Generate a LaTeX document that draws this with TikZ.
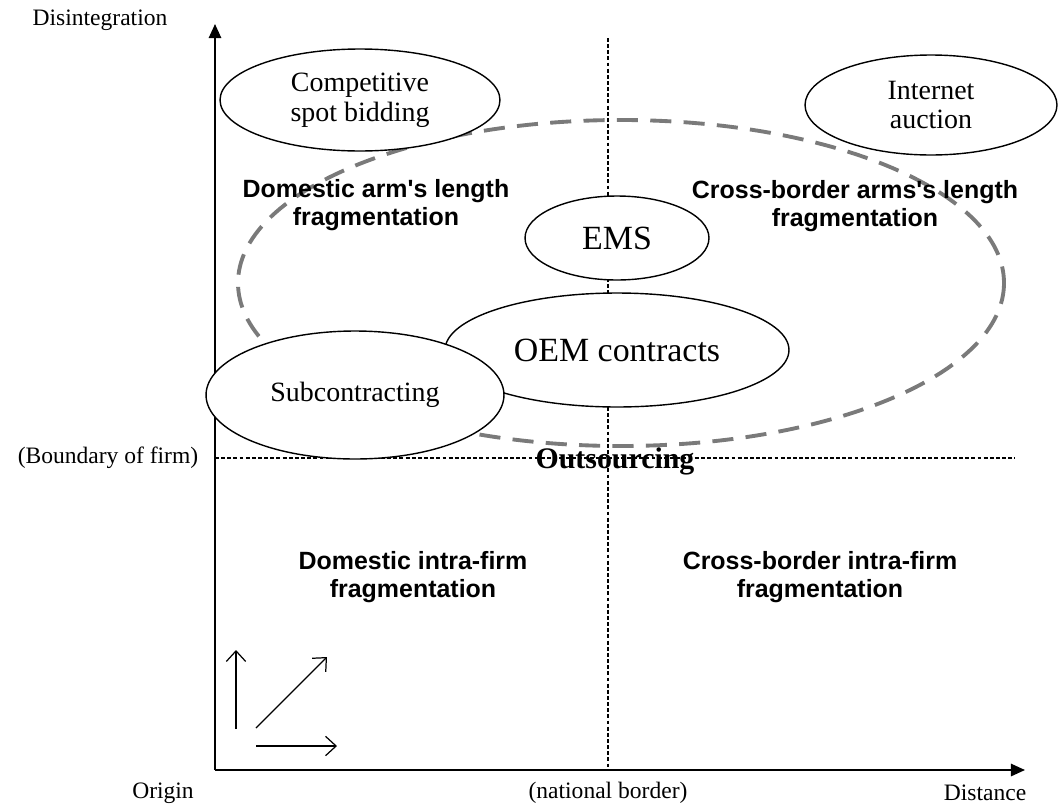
\documentclass[tikz,border=0pt]{standalone}
\usepackage{fontspec}
\setmainfont{Liberation Serif}
\newfontfamily\arialfont{Liberation Sans}
\usetikzlibrary{shapes.geometric,arrows.meta}
\definecolor{dashgray}{HTML}{7A7A7A}

\begin{document}
\begin{tikzpicture}[x=0.02cm, y=-0.02cm,
	bubble/.style={draw, ellipse, fill=white, line width=0.8pt, inner sep=0pt,
		align=center, font=\fontsize{15.9}{17}\selectfont},
	region/.style={align=center, font=\arialfont\bfseries\fontsize{14.2}{15.8}\selectfont},
	axislabel/.style={font=\fontsize{13.4}{15}\selectfont},
	guide/.style={line width=0.6pt, dash pattern=on 2.2pt off 1.3pt}]

% frame %{{{2

	\useasboundingbox (0,0) rectangle (1060,805);

% coordinates %{{{2

	\coordinate (O) at (215,770);
	\coordinate (Ytip) at (215,24);
	\coordinate (Xtip) at (1025,770);

	\coordinate (Btop) at (608,38);
	\coordinate (Bbot) at (608,770);
	\coordinate (Fleft) at (215,458);
	\coordinate (Fright) at (1015,458);

	\coordinate (V1) at (236,729);
	\coordinate (V2) at (236,650);
	\coordinate (D1) at (256,728);
	\coordinate (D2) at (327,657);
	\coordinate (H1) at (256,746);
	\coordinate (H2) at (337,746);

% outsourcing region %{{{2

	\draw[dashgray, line width=2.2pt, dash pattern=on 12pt off 7pt]
		(621,283) ellipse [x radius=383, y radius=163];

% guide lines %{{{2

	\draw[guide] (Btop) -- (Bbot);
	\draw[guide] (Fleft) -- (Fright);

% axes %{{{2

	\draw[line width=1.1pt, -{Triangle[length=8pt,width=7pt]}] (O) -- (Ytip);
	\draw[line width=1.1pt, -{Triangle[length=8pt,width=7pt]}] (O) -- (Xtip);

% ellipses %{{{2

	\node[bubble, minimum width=5.6cm, minimum height=2.04cm] (compbid) at (360,100)
		{Competitive\\spot bidding};
	\node[bubble, minimum width=5.04cm, minimum height=2cm] (inet) at (931,105)
		{Internet\\auction};
	\node[bubble, minimum width=3.68cm, minimum height=1.68cm,
		font=\fontsize{19.3}{21}\selectfont] (ems) at (617,238) {EMS};
	\node[bubble, minimum width=6.88cm, minimum height=2.28cm,
		font=\fontsize{19.3}{21}\selectfont] (oem) at (617,350) {OEM contracts};
	\node[bubble, minimum width=5.96cm, minimum height=2.56cm] (subcon) at (355,395)
		{Subcontracting};

% region labels %{{{2

	\node[region] (domarm) at (376,205) {Domestic arm's length\\fragmentation};
	\node[region] (crossarm) at (855,206) {Cross-border arms's length\\fragmentation};
	\node[region] (domintra) at (413,577) {Domestic intra-firm\\fragmentation};
	\node[region] (crossintra) at (820,577) {Cross-border intra-firm\\fragmentation};

	\node[font=\bfseries\fontsize{17}{19}\selectfont] (outsrc) at (615,461) {Outsourcing};

% axis labels %{{{2

	\node[axislabel] (disint) at (100,20) {Disintegration};
	\node[axislabel] (origin) at (163,793) {Origin};
	\node[axislabel] (natb) at (608,793) {(national border)};
	\node[axislabel] (dist) at (985,793) {Distance};
	\node[axislabel] (bfirm) at (108,458) {(Boundary of firm)};

% small arrows %{{{2

	\draw[line width=0.7pt, -{Straight Barb[length=6pt,width=11pt]}] (V1) -- (V2);
	\draw[line width=0.7pt, -{Straight Barb[length=6pt,width=11pt]}] (D1) -- (D2);
	\draw[line width=0.7pt, -{Straight Barb[length=6pt,width=11pt]}] (H1) -- (H2);

% closing %{{{2

\end{tikzpicture}
\end{document}
